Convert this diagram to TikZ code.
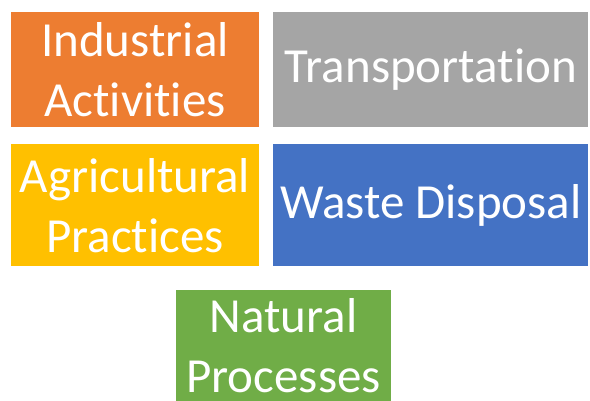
\documentclass[tikz,border=0pt]{standalone}
\usepackage{fontspec}
\setmainfont{Carlito}[Ligatures=NoCommon]
\usetikzlibrary{positioning}

\definecolor{accorange}{HTML}{ED7D31}
\definecolor{accgray}{HTML}{A5A5A5}
\definecolor{accyellow}{HTML}{FFC000}
\definecolor{accblue}{HTML}{4472C4}
\definecolor{accgreen}{HTML}{70AD47}

\begin{document}
\begin{tikzpicture}[x=1pt,y=-1pt,
	source/.style={rectangle,fill=#1,text=white,inner sep=0pt,align=center,
		font=\fontsize{49}{60}\selectfont}]
	
	\useasboundingbox (0,0) rectangle (590,401);
	
	\node[source=accorange,minimum width=248pt,minimum height=115pt] (ind) at (135,69.5) {Industrial\\Activities};
	\node[source=accgray,minimum width=315pt,minimum height=115pt] (trans) [right=14pt of ind] {Transportation};
	\node[source=accyellow,minimum width=248pt,minimum height=122pt] (agri) [below=17pt of ind] {Agricultural\\Practices};
	\node[source=accblue,minimum width=315pt,minimum height=122pt] (waste) [right=14pt of agri] {Waste Disposal};
	\node[source=accgreen,minimum width=215pt,minimum height=111pt] (nat) at (283.5,345.5) {Natural\\Processes};
\end{tikzpicture}
\end{document}
